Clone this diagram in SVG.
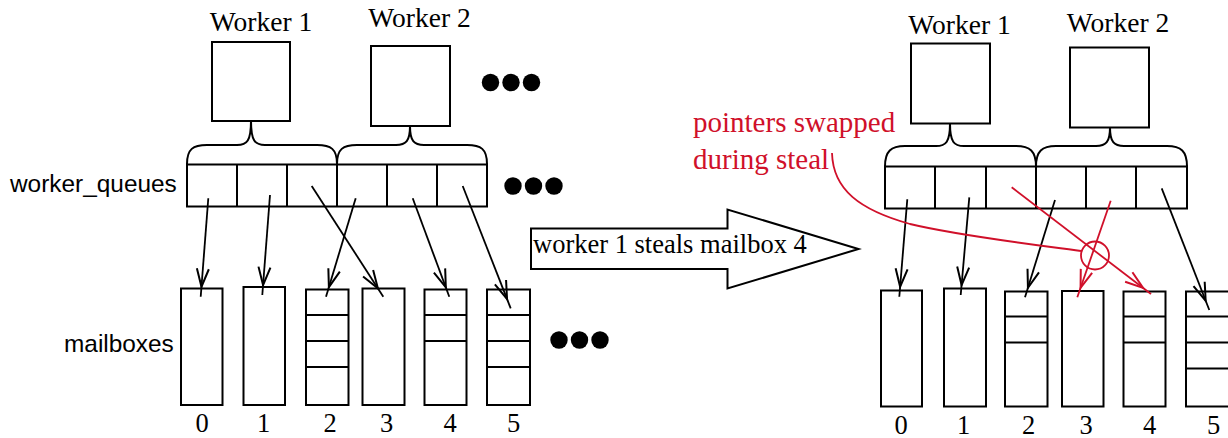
<svg xmlns="http://www.w3.org/2000/svg" width="1228" height="438" viewBox="0 0 1228 438">
<defs>
<style>
.b{fill:#fff;stroke:#000;stroke-width:2}
.ln{fill:none;stroke:#000;stroke-width:2}
.c{fill:none;stroke:#000;stroke-width:1.8;marker-end:url(#ah)}
.r{fill:none;stroke:#d0102a;stroke-width:1.8}
.ra{fill:none;stroke:#d0102a;stroke-width:1.8;marker-end:url(#rh)}
.s{font-family:"Liberation Serif","Times New Roman",serif;font-size:26.5px;fill:#000}
.n{font-family:"Liberation Serif","Times New Roman",serif;font-size:26.5px;fill:#000;text-anchor:middle}
.w{font-family:"Liberation Serif","Times New Roman",serif;font-size:27.5px;fill:#000;text-anchor:middle}
.sans{font-family:"Liberation Sans",Arial,sans-serif;font-size:24.4px;fill:#000}
.red{font-family:"Liberation Serif","Times New Roman",serif;font-size:29px;fill:#d0102a}
.dot{fill:#000}
</style>
<marker id="ah" viewBox="-30 -10 32 20" refX="0" refY="0" markerWidth="32" markerHeight="20" markerUnits="userSpaceOnUse" orient="auto"><path d="M-28,-6 L-10,0 L-28,6" fill="none" stroke="#000" stroke-width="2"/></marker>
<marker id="rh" viewBox="-30 -10 32 20" refX="0" refY="0" markerWidth="32" markerHeight="20" markerUnits="userSpaceOnUse" orient="auto"><path d="M-28,-6 L-10,0 L-28,6" fill="none" stroke="#d0102a" stroke-width="2"/></marker>
</defs>
<rect width="1228" height="438" fill="#fff"/>

<!-- LEFT -->
<g id="left-worker1">
<text class="w" x="261" y="31">Worker 1</text>
<rect class="b" x="212" y="42" width="78" height="79"/>
</g>
<g id="left-worker2">
<text class="w" x="419.5" y="27">Worker 2</text>
<rect class="b" x="371" y="46" width="79" height="80"/>
</g>
<g id="left-dots-top"><circle class="dot" cx="490.5" cy="82.5" r="8.7"/><circle class="dot" cx="511" cy="82.5" r="8.7"/><circle class="dot" cx="531.5" cy="82.5" r="8.7"/></g>
<g id="left-braces">
<path class="ln" d="M187,164 C187,149 193,145 207,145 L237,145 C247,145 251,141 251,121 C251,141 255,145 265,145 L317,145 C331,145 337,149 337,164"/>
<path class="ln" d="M337,164 C337,149 343,145 357,145 L396,145 C406,145 410,141 410,126 C410,141 414,145 424,145 L467,145 C481,145 487,149 487,164"/>
</g>
<g id="left-worker-queues">
<text class="sans" x="10" y="192">worker_queues</text>
<rect class="b" x="187" y="164.5" width="300" height="42"/>
<path class="ln" d="M237,164.5V206.5M287,164.5V206.5M337,164.5V206.5M387,164.5V206.5M437,164.5V206.5"/>
</g>
<g id="left-dots-mid"><circle class="dot" cx="513" cy="186" r="8.7"/><circle class="dot" cx="533.5" cy="186" r="8.7"/><circle class="dot" cx="554" cy="186" r="8.7"/></g>
<g id="left-mailboxes">
<text class="sans" x="64" y="351.5">mailboxes</text>
<g id="lmb0"><rect class="b" x="181" y="288.5" width="41.5" height="116.5"/><text class="n" x="202" y="431.5">0</text></g>
<g id="lmb1"><rect class="b" x="243.5" y="287" width="41.5" height="118"/><text class="n" x="263.5" y="431.5">1</text></g>
<g id="lmb2"><rect class="b" x="306" y="289.5" width="42.5" height="115.5"/><path class="ln" d="M306,315H348.5M306,341H348.5M306,367H348.5"/><text class="n" x="330" y="431.5">2</text></g>
<g id="lmb3"><rect class="b" x="362.5" y="288.5" width="42" height="116.5"/><text class="n" x="386.5" y="431.5">3</text></g>
<g id="lmb4"><rect class="b" x="424.5" y="289.5" width="42" height="115.5"/><path class="ln" d="M424.5,315H466.5M424.5,341H466.5"/><text class="n" x="450" y="431.5">4</text></g>
<g id="lmb5"><rect class="b" x="487" y="289.5" width="43" height="115.5"/><path class="ln" d="M487,315H530M487,341H530M487,367H530"/><text class="n" x="513.5" y="431.5">5</text></g>
</g>
<g id="left-dots-bottom"><circle class="dot" cx="559" cy="340" r="8.7"/><circle class="dot" cx="579.5" cy="340" r="8.7"/><circle class="dot" cx="600" cy="340" r="8.7"/></g>

<!-- BIG ARROW -->
<g id="steal-arrow">
<polygon class="b" points="531,228.5 727.5,228.5 727.5,209.5 858.5,249 727.5,288.5 727.5,269 531,269"/>
<text class="s" x="533" y="253">worker 1 steals mailbox 4</text>
</g>

<!-- RIGHT -->
<g id="right-worker1">
<text class="w" x="959.5" y="33.5">Worker 1</text>
<rect class="b" x="911" y="43.5" width="79" height="80"/>
</g>
<g id="right-worker2">
<text class="w" x="1118" y="31.5">Worker 2</text>
<rect class="b" x="1070" y="47.5" width="79" height="80"/>
</g>
<g id="right-braces">
<path class="ln" d="M885,166.5 C885,151 891,146 905,146 L936,146 C946,146 950,142 950,123.5 C950,142 954,146 964,146 L1016,146 C1030,146 1036,151 1036,166.5"/>
<path class="ln" d="M1036,166.5 C1036,151 1042,146 1056,146 L1096,146 C1106,146 1110,142 1110,127.5 C1110,142 1114,146 1124,146 L1167,146 C1181,146 1187,151 1187,166.5"/>
</g>
<g id="right-worker-queues">
<rect class="b" x="885" y="166.5" width="302" height="42"/>
<path class="ln" d="M935,166.5V208.5M986,166.5V208.5M1036,166.5V208.5M1086,166.5V208.5M1136,166.5V208.5"/>
</g>
<g id="right-mailboxes">
<g id="rmb0"><rect class="b" x="881" y="290.5" width="41" height="116"/><text class="n" x="901" y="433.5">0</text></g>
<g id="rmb1"><rect class="b" x="944" y="288.5" width="42" height="118"/><text class="n" x="963.5" y="433.5">1</text></g>
<g id="rmb2"><rect class="b" x="1005" y="291.5" width="42.5" height="115"/><path class="ln" d="M1005,316.5H1047.5M1005,342.5H1047.5"/><text class="n" x="1028.5" y="433.5">2</text></g>
<g id="rmb3"><rect class="b" x="1062" y="291" width="41.5" height="115.5"/><text class="n" x="1086" y="433.5">3</text></g>
<g id="rmb4"><rect class="b" x="1123.5" y="291.5" width="42" height="115"/><path class="ln" d="M1123.5,316.5H1165.5M1123.5,342.5H1165.5"/><text class="n" x="1149.5" y="433.5">4</text></g>
<g id="rmb5"><rect class="b" x="1186" y="291.5" width="44" height="115"/><path class="ln" d="M1186,316.5H1230M1186,342.5H1230M1186,368.5H1230"/><text class="n" x="1213.5" y="433.5">5</text></g>
</g>
<g id="annotation">
<text class="red" x="693" y="132">pointers swapped</text>
<text class="red" x="693" y="169">during steal</text>
</g>

<g id="connectors">
<line class="c" x1="208.3" y1="198.3" x2="200.7" y2="296.7"/>
<line class="c" x1="270" y1="195" x2="262.3" y2="295"/>
<line class="c" x1="355.7" y1="198.3" x2="326" y2="296.7"/>
<line class="c" x1="311.7" y1="186" x2="383.3" y2="296.7"/>
<line class="c" x1="412.7" y1="198.3" x2="449.3" y2="296.7"/>
<line class="c" x1="462.7" y1="186" x2="510.7" y2="308.3"/>

<line class="c" x1="907.3" y1="199.3" x2="899.3" y2="296.7"/>
<line class="c" x1="969.3" y1="197.3" x2="960.7" y2="295"/>
<line class="c" x1="1055" y1="200" x2="1025" y2="297.3"/>
<line class="c" x1="1161.7" y1="188.3" x2="1209.3" y2="310"/>

<line class="ra" x1="1011.7" y1="187.3" x2="1151" y2="294"/>
<line class="ra" x1="1110.7" y1="200.7" x2="1077.3" y2="297.3"/>
<circle class="r" cx="1095" cy="255.5" r="14"/>
<path class="r" d="M832,153 C833,190 860,210 910,224 C960,236 1030,244 1081,251"/>
</g>
</svg>
